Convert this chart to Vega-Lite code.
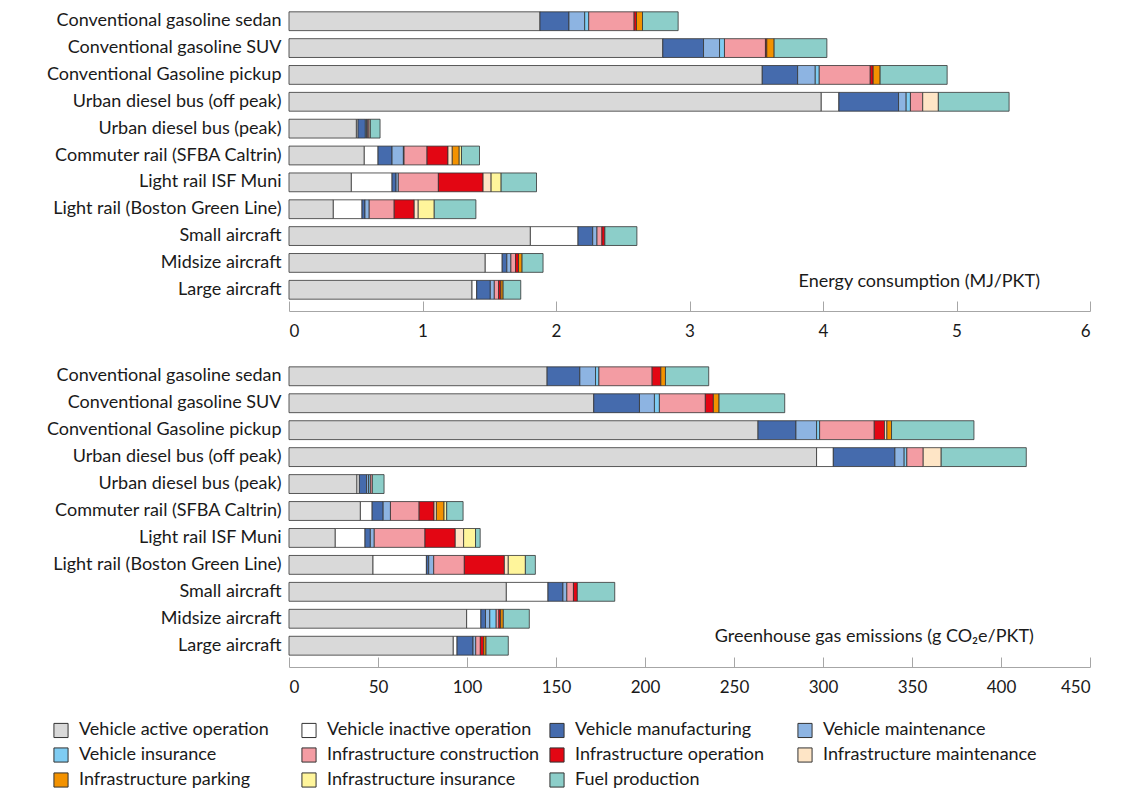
{
  "$schema": "https://vega.github.io/schema/vega-lite/v6.json",
  "padding": {"left": 46, "top": 0, "right": 5, "bottom": 0},
  "background": "white",
  "config": {
    "font": "Lato",
    "view": {"stroke": null},
    "concat": {"spacing": 16},
    "axis": {"labelColor": "#1a1a1a", "labelFontSize": 18, "labelFont": "Lato"}
  },
  "datasets": {
    "energy": [
      {"mode": "Conventional gasoline sedan", "Vehicle active operation": 1.88, "Vehicle inactive operation": 0, "Vehicle manufacturing": 0.217, "Vehicle maintenance": 0.118, "Vehicle insurance": 0.03, "Infrastructure construction": 0.34, "Infrastructure operation": 0.018, "Infrastructure maintenance": 0, "Infrastructure parking": 0.045, "Infrastructure insurance": 0, "Fuel production": 0.267},
      {"mode": "Conventional gasoline SUV", "Vehicle active operation": 2.8, "Vehicle inactive operation": 0, "Vehicle manufacturing": 0.305, "Vehicle maintenance": 0.12, "Vehicle insurance": 0.037, "Infrastructure construction": 0.307, "Infrastructure operation": 0.01, "Infrastructure maintenance": 0, "Infrastructure parking": 0.055, "Infrastructure insurance": 0, "Fuel production": 0.395},
      {"mode": "Conventional Gasoline pickup", "Vehicle active operation": 3.545, "Vehicle inactive operation": 0, "Vehicle manufacturing": 0.265, "Vehicle maintenance": 0.132, "Vehicle insurance": 0.03, "Infrastructure construction": 0.382, "Infrastructure operation": 0.022, "Infrastructure maintenance": 0, "Infrastructure parking": 0.052, "Infrastructure insurance": 0, "Fuel production": 0.502},
      {"mode": "Urban diesel bus (off peak)", "Vehicle active operation": 3.987, "Vehicle inactive operation": 0.132, "Vehicle manufacturing": 0.447, "Vehicle maintenance": 0.057, "Vehicle insurance": 0.032, "Infrastructure construction": 0.092, "Infrastructure operation": 0, "Infrastructure maintenance": 0.117, "Infrastructure parking": 0, "Infrastructure insurance": 0, "Fuel production": 0.53},
      {"mode": "Urban diesel bus (peak)", "Vehicle active operation": 0.505, "Vehicle inactive operation": 0.012, "Vehicle manufacturing": 0.055, "Vehicle maintenance": 0.01, "Vehicle insurance": 0.005, "Infrastructure construction": 0.012, "Infrastructure operation": 0, "Infrastructure maintenance": 0.01, "Infrastructure parking": 0, "Infrastructure insurance": 0, "Fuel production": 0.073},
      {"mode": "Commuter rail (SFBA Caltrin)", "Vehicle active operation": 0.564, "Vehicle inactive operation": 0.103, "Vehicle manufacturing": 0.105, "Vehicle maintenance": 0.085, "Vehicle insurance": 0.005, "Infrastructure construction": 0.172, "Infrastructure operation": 0.157, "Infrastructure maintenance": 0.032, "Infrastructure parking": 0.052, "Infrastructure insurance": 0.017, "Fuel production": 0.135},
      {"mode": "Light rail ISF Muni", "Vehicle active operation": 0.467, "Vehicle inactive operation": 0.305, "Vehicle manufacturing": 0.03, "Vehicle maintenance": 0.017, "Vehicle insurance": 0, "Infrastructure construction": 0.3, "Infrastructure operation": 0.335, "Infrastructure maintenance": 0.06, "Infrastructure parking": 0, "Infrastructure insurance": 0.075, "Fuel production": 0.265},
      {"mode": "Light rail (Boston Green Line)", "Vehicle active operation": 0.332, "Vehicle inactive operation": 0.215, "Vehicle manufacturing": 0.022, "Vehicle maintenance": 0.032, "Vehicle insurance": 0, "Infrastructure construction": 0.187, "Infrastructure operation": 0.15, "Infrastructure maintenance": 0.03, "Infrastructure parking": 0, "Infrastructure insurance": 0.12, "Fuel production": 0.312},
      {"mode": "Small aircraft", "Vehicle active operation": 1.808, "Vehicle inactive operation": 0.357, "Vehicle manufacturing": 0.11, "Vehicle maintenance": 0.032, "Vehicle insurance": 0, "Infrastructure construction": 0.037, "Infrastructure operation": 0.022, "Infrastructure maintenance": 0, "Infrastructure parking": 0, "Infrastructure insurance": 0, "Fuel production": 0.24},
      {"mode": "Midsize aircraft", "Vehicle active operation": 1.47, "Vehicle inactive operation": 0.127, "Vehicle manufacturing": 0.035, "Vehicle maintenance": 0.03, "Vehicle insurance": 0, "Infrastructure construction": 0.035, "Infrastructure operation": 0.022, "Infrastructure maintenance": 0, "Infrastructure parking": 0.027, "Infrastructure insurance": 0, "Fuel production": 0.157},
      {"mode": "Large aircraft", "Vehicle active operation": 1.371, "Vehicle inactive operation": 0.035, "Vehicle manufacturing": 0.102, "Vehicle maintenance": 0.03, "Vehicle insurance": 0, "Infrastructure construction": 0.032, "Infrastructure operation": 0.017, "Infrastructure maintenance": 0, "Infrastructure parking": 0.017, "Infrastructure insurance": 0, "Fuel production": 0.132}
    ],
    "ghg": [
      {"mode": "Conventional gasoline sedan", "Vehicle active operation": 145, "Vehicle inactive operation": 0, "Vehicle manufacturing": 18.4, "Vehicle maintenance": 8.8, "Vehicle insurance": 1.9, "Infrastructure construction": 29.9, "Infrastructure operation": 4.9, "Infrastructure maintenance": 0, "Infrastructure parking": 2.6, "Infrastructure insurance": 0, "Fuel production": 24.3},
      {"mode": "Conventional gasoline SUV", "Vehicle active operation": 171.2, "Vehicle inactive operation": 0, "Vehicle manufacturing": 25.7, "Vehicle maintenance": 8.4, "Vehicle insurance": 2.8, "Infrastructure construction": 25.8, "Infrastructure operation": 4.5, "Infrastructure maintenance": 0, "Infrastructure parking": 3.2, "Infrastructure insurance": 0, "Fuel production": 36.9},
      {"mode": "Conventional Gasoline pickup", "Vehicle active operation": 263.5, "Vehicle inactive operation": 0, "Vehicle manufacturing": 21.3, "Vehicle maintenance": 11.6, "Vehicle insurance": 1.7, "Infrastructure construction": 30.7, "Infrastructure operation": 5.8, "Infrastructure maintenance": 1.3, "Infrastructure parking": 2.6, "Infrastructure insurance": 0, "Fuel production": 46.3},
      {"mode": "Urban diesel bus (off peak)", "Vehicle active operation": 296.4, "Vehicle inactive operation": 9.4, "Vehicle manufacturing": 34.6, "Vehicle maintenance": 5.2, "Vehicle insurance": 1.5, "Infrastructure construction": 9.2, "Infrastructure operation": 0, "Infrastructure maintenance": 10.1, "Infrastructure parking": 0, "Infrastructure insurance": 0, "Fuel production": 47.8},
      {"mode": "Urban diesel bus (peak)", "Vehicle active operation": 38.2, "Vehicle inactive operation": 1.3, "Vehicle manufacturing": 4.1, "Vehicle maintenance": 1.1, "Vehicle insurance": 1.0, "Infrastructure construction": 1.1, "Infrastructure operation": 0, "Infrastructure maintenance": 0, "Infrastructure parking": 0, "Infrastructure insurance": 0, "Fuel production": 6.6},
      {"mode": "Commuter rail (SFBA Caltrin)", "Vehicle active operation": 40.1, "Vehicle inactive operation": 6.6, "Vehicle manufacturing": 6.2, "Vehicle maintenance": 4.1, "Vehicle insurance": 0, "Infrastructure construction": 16.1, "Infrastructure operation": 8.4, "Infrastructure maintenance": 1.3, "Infrastructure parking": 4.3, "Infrastructure insurance": 1.5, "Fuel production": 9.2},
      {"mode": "Light rail ISF Muni", "Vehicle active operation": 26, "Vehicle inactive operation": 16.7, "Vehicle manufacturing": 3, "Vehicle maintenance": 2.2, "Vehicle insurance": 0, "Infrastructure construction": 28.5, "Infrastructure operation": 17, "Infrastructure maintenance": 4.7, "Infrastructure parking": 0, "Infrastructure insurance": 6.7, "Fuel production": 2.6},
      {"mode": "Light rail (Boston Green Line)", "Vehicle active operation": 47.2, "Vehicle inactive operation": 30, "Vehicle manufacturing": 1.3, "Vehicle maintenance": 2.8, "Vehicle insurance": 0, "Infrastructure construction": 17.2, "Infrastructure operation": 22.5, "Infrastructure maintenance": 2.2, "Infrastructure parking": 0, "Infrastructure insurance": 9.6, "Fuel production": 5.6},
      {"mode": "Small aircraft", "Vehicle active operation": 122.1, "Vehicle inactive operation": 23.4, "Vehicle manufacturing": 8.4, "Vehicle maintenance": 2.2, "Vehicle insurance": 0, "Infrastructure construction": 3.7, "Infrastructure operation": 2.2, "Infrastructure maintenance": 0, "Infrastructure parking": 0, "Infrastructure insurance": 0, "Fuel production": 21},
      {"mode": "Midsize aircraft", "Vehicle active operation": 99.8, "Vehicle inactive operation": 8, "Vehicle manufacturing": 2.6, "Vehicle maintenance": 2.4, "Vehicle insurance": 3.6, "Infrastructure construction": 1.5, "Infrastructure operation": 1, "Infrastructure maintenance": 0, "Infrastructure parking": 1.5, "Infrastructure insurance": 0, "Fuel production": 14.6},
      {"mode": "Large aircraft", "Vehicle active operation": 92.3, "Vehicle inactive operation": 2.1, "Vehicle manufacturing": 9, "Vehicle maintenance": 1.5, "Vehicle insurance": 0, "Infrastructure construction": 2.6, "Infrastructure operation": 1.9, "Infrastructure maintenance": 0, "Infrastructure parking": 1.3, "Infrastructure insurance": 0, "Fuel production": 12.5}
    ],
    "notes": [
      {"panel": "energy", "mode": "Large aircraft", "v": 5.625, "label": "Energy consumption (MJ/PKT)"},
      {"panel": "ghg", "mode": "Large aircraft", "v": 418.5, "label": "Greenhouse gas emissions (g CO₂e/PKT)"}
    ]
  },
  "vconcat": [
    {
      "width": 801,
      "height": 311,
      "layer": [
        {
          "data": {"name": "energy"},
          "transform": [
            {"fold": ["Vehicle active operation", "Vehicle inactive operation", "Vehicle manufacturing", "Vehicle maintenance", "Vehicle insurance", "Infrastructure construction", "Infrastructure operation", "Infrastructure maintenance", "Infrastructure parking", "Infrastructure insurance", "Fuel production"], "as": ["component", "v"]},
            {"filter": "datum.v > 0"},
            {"calculate": "indexof(['Vehicle active operation', 'Vehicle inactive operation', 'Vehicle manufacturing', 'Vehicle maintenance', 'Vehicle insurance', 'Infrastructure construction', 'Infrastructure operation', 'Infrastructure maintenance', 'Infrastructure parking', 'Infrastructure insurance', 'Fuel production'], datum.component)", "as": "o"}
          ],
          "mark": {"type": "bar", "stroke": "#333333", "strokeWidth": 1, "strokeOpacity": 0.8},
          "encoding": {
            "y": {"field": "mode", "type": "nominal", "title": null,
              "scale": {"domain": ["Conventional gasoline sedan", "Conventional gasoline SUV", "Conventional Gasoline pickup", "Urban diesel bus (off peak)", "Urban diesel bus (peak)", "Commuter rail (SFBA Caltrin)", "Light rail ISF Muni", "Light rail (Boston Green Line)", "Small aircraft", "Midsize aircraft", "Large aircraft"], "paddingInner": 0.3, "paddingOuter": 0.44},
              "axis": {"domain": false, "ticks": false, "labelPadding": 8, "labelLimit": 400}},
            "x": {"field": "v", "type": "quantitative", "stack": "zero", "title": null,
              "scale": {"domain": [0, 6], "nice": false},
              "axis": {"values": [0, 1, 2, 3, 4, 5, 6], "format": "d", "labelFontSize": 17, "grid": false, "domainColor": "#a6a6a6", "tickColor": "#a6a6a6", "tickSize": -10, "labelPadding": 22}},
            "color": {"field": "component", "type": "nominal",
              "scale": {"domain": ["Vehicle active operation", "Vehicle inactive operation", "Vehicle manufacturing", "Vehicle maintenance", "Vehicle insurance", "Infrastructure construction", "Infrastructure operation", "Infrastructure maintenance", "Infrastructure parking", "Infrastructure insurance", "Fuel production"],
                "range": ["#d9d9d9", "#ffffff", "#456bad", "#8db4e2", "#7fccf2", "#f39ca3", "#e30613", "#fee5c6", "#f39200", "#fff59b", "#8ccec9"]},
              "legend": {"title": null, "orient": "none", "legendX": -237, "legendY": 721, "direction": "horizontal", "columns": 4, "gridAlign": "all", "symbolType": "square", "symbolSize": 200, "symbolStrokeColor": "#222222", "symbolStrokeWidth": 1, "symbolOpacity": 1, "labelFontSize": 18, "labelColor": "#1a1a1a", "labelLimit": 400, "rowPadding": 5, "columnPadding": 6, "padding": 0, "labelOffset": 9}},
            "order": {"field": "o", "type": "quantitative"}
          }
        },
        {
          "data": {"name": "notes"},
          "transform": [{"filter": "datum.panel == 'energy'"}],
          "mark": {"type": "text", "align": "right", "baseline": "middle", "dy": -8, "fontSize": 18, "color": "#1a1a1a"},
          "encoding": {
            "x": {"field": "v", "type": "quantitative"},
            "y": {"field": "mode", "type": "nominal"},
            "text": {"field": "label"}
          }
        }
      ]
    },
    {
      "width": 801,
      "height": 312,
      "layer": [
        {
          "data": {"name": "ghg"},
          "transform": [
            {"fold": ["Vehicle active operation", "Vehicle inactive operation", "Vehicle manufacturing", "Vehicle maintenance", "Vehicle insurance", "Infrastructure construction", "Infrastructure operation", "Infrastructure maintenance", "Infrastructure parking", "Infrastructure insurance", "Fuel production"], "as": ["component", "v"]},
            {"filter": "datum.v > 0"},
            {"calculate": "indexof(['Vehicle active operation', 'Vehicle inactive operation', 'Vehicle manufacturing', 'Vehicle maintenance', 'Vehicle insurance', 'Infrastructure construction', 'Infrastructure operation', 'Infrastructure maintenance', 'Infrastructure parking', 'Infrastructure insurance', 'Fuel production'], datum.component)", "as": "o"}
          ],
          "mark": {"type": "bar", "stroke": "#333333", "strokeWidth": 1, "strokeOpacity": 0.8},
          "encoding": {
            "y": {"field": "mode", "type": "nominal", "title": null,
              "scale": {"domain": ["Conventional gasoline sedan", "Conventional gasoline SUV", "Conventional Gasoline pickup", "Urban diesel bus (off peak)", "Urban diesel bus (peak)", "Commuter rail (SFBA Caltrin)", "Light rail ISF Muni", "Light rail (Boston Green Line)", "Small aircraft", "Midsize aircraft", "Large aircraft"], "paddingInner": 0.3, "paddingOuter": 0.44},
              "axis": {"domain": false, "ticks": false, "labelPadding": 8, "labelLimit": 400}},
            "x": {"field": "v", "type": "quantitative", "stack": "zero", "title": null,
              "scale": {"domain": [0, 450], "nice": false},
              "axis": {"values": [0, 50, 100, 150, 200, 250, 300, 350, 400, 450], "format": "d", "labelFontSize": 17, "grid": false, "domainColor": "#a6a6a6", "tickColor": "#a6a6a6", "tickSize": -10, "labelPadding": 22}},
            "color": {"field": "component", "type": "nominal"},
            "order": {"field": "o", "type": "quantitative"}
          }
        },
        {
          "data": {"name": "notes"},
          "transform": [{"filter": "datum.panel == 'ghg'"}],
          "mark": {"type": "text", "align": "right", "baseline": "middle", "dy": -9, "fontSize": 18, "color": "#1a1a1a"},
          "encoding": {
            "x": {"field": "v", "type": "quantitative"},
            "y": {"field": "mode", "type": "nominal"},
            "text": {"field": "label"}
          }
        }
      ]
    }
  ],
  "resolve": {"scale": {"color": "shared"}}
}
